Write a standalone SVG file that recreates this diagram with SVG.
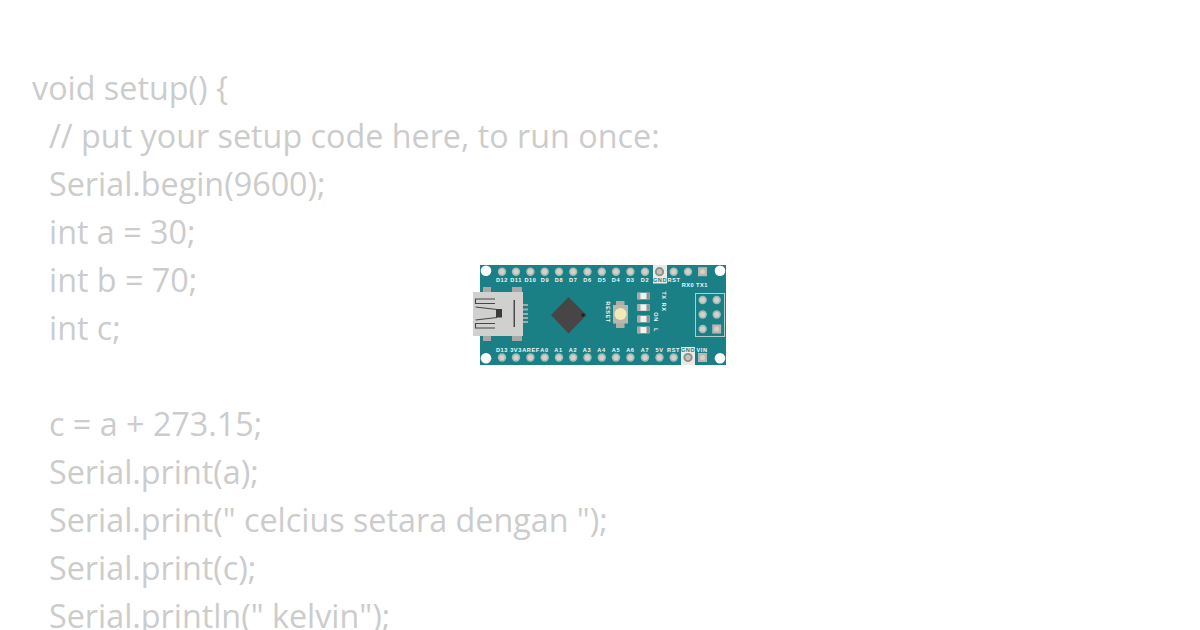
<svg xmlns="http://www.w3.org/2000/svg" width="1200" height="630" viewBox="0 0 1200 630">
<style>
.c{font-family:"Open Sans","Noto Sans",sans-serif;font-size:32.3px;fill:#cccccc}
.l{font-family:"Liberation Sans",sans-serif;font-size:5.6px;font-weight:700;fill:#f4f8f6;text-anchor:middle;letter-spacing:.55px}
.g{fill:#1a8086}
.p{fill:#a3bcb8}
.sq{fill:#b8b6ae}
.s{fill:none;stroke:#474747;stroke-width:1.100}
.t{fill:#a8a8a6}
</style>
<defs>
<g id="pin"><circle r="4.200" class="p"/><circle r="2.600" fill="#d9cfc9"/></g>
<g id="gpin"><circle r="4.600" fill="#8d8f8b"/><circle r="2.700" fill="#c8c0b9"/></g>
<g id="sqpin"><rect x="-4.500" y="-4.500" width="9" height="9" class="sq"/><circle r="2.500" fill="#d9cfc9"/></g>
<g id="led"><rect x="-6" y="-3.300" width="12" height="6.600" fill="#f2f2ef"/><rect x="-6" y="-3.300" width="3" height="6.600" fill="#a9a9a5"/><rect x="3" y="-3.300" width="3" height="6.600" fill="#8e9492"/></g>
</defs>
<rect width="1200" height="630" fill="#fff"/>
<g id="code">
<text class="c" x="32" y="100">void setup() {</text>
<text class="c" x="49" y="148">// put your setup code here, to run once:</text>
<text class="c" x="49" y="196">Serial.begin(9600);</text>
<text class="c" x="49" y="244">int a = 30;</text>
<text class="c" x="49" y="292">int b = 70;</text>
<text class="c" x="49" y="340">int c;</text>
<text class="c" x="49" y="436">c = a + 273.15;</text>
<text class="c" x="49" y="484">Serial.print(a);</text>
<text class="c" x="49" y="532">Serial.print(" celcius setara dengan ");</text>
<text class="c" x="49" y="580">Serial.print(c);</text>
<text class="c" x="49" y="628">Serial.println(" kelvin");</text>
</g>
<g id="board">
<rect x="480" y="265" width="246" height="100" class="g"/>
<circle cx="486" cy="270.700" r="5.300" fill="#fff"/>
<circle cx="720" cy="270.700" r="5.300" fill="#fff"/>
<circle cx="486" cy="358.300" r="5.300" fill="#fff"/>
<circle cx="720" cy="358.300" r="5.300" fill="#fff"/>
<rect x="653" y="265" width="14" height="18.500" fill="#e8ece8"/>
<rect x="681" y="347" width="14" height="18" fill="#e8ece8"/>
</g>
<g id="pins-top">
<use href="#pin" x="502" y="271.700"/><use href="#pin" x="516" y="271.700"/><use href="#pin" x="530.400" y="271.700"/><use href="#pin" x="544.700" y="271.700"/><use href="#pin" x="559" y="271.700"/><use href="#pin" x="573.200" y="271.700"/><use href="#pin" x="587.500" y="271.700"/><use href="#pin" x="601.800" y="271.700"/><use href="#pin" x="616" y="271.700"/><use href="#pin" x="630.400" y="271.700"/><use href="#pin" x="645" y="271.700"/><use href="#gpin" x="659.500" y="271.700"/><use href="#pin" x="673.700" y="271.700"/><use href="#pin" x="688" y="271.700"/><use href="#sqpin" x="702.500" y="271.700"/>
</g>
<g id="pins-bottom">
<use href="#pin" x="502" y="357.500"/><use href="#pin" x="516" y="357.500"/><use href="#pin" x="530.400" y="357.500"/><use href="#pin" x="544.700" y="357.500"/><use href="#pin" x="559" y="357.500"/><use href="#pin" x="573.200" y="357.500"/><use href="#pin" x="587.500" y="357.500"/><use href="#pin" x="601.800" y="357.500"/><use href="#pin" x="616" y="357.500"/><use href="#pin" x="630.400" y="357.500"/><use href="#pin" x="645" y="357.500"/><use href="#pin" x="659.500" y="357.500"/><use href="#pin" x="673.700" y="357.500"/><use href="#gpin" x="688" y="357.500"/><use href="#sqpin" x="702.500" y="357.500"/>
</g>
<g id="labels-top">
<text class="l" x="502" y="282">D12</text><text class="l" x="516" y="282">D11</text><text class="l" x="530.400" y="282">D10</text><text class="l" x="545" y="282">D9</text><text class="l" x="559" y="282">D8</text><text class="l" x="573.200" y="282">D7</text><text class="l" x="587.500" y="282">D6</text><text class="l" x="602" y="282">D5</text><text class="l" x="616" y="282">D4</text><text class="l" x="630.400" y="282">D3</text><text class="l" x="645" y="282">D2</text>
<text class="l" x="660" y="282" style="fill:#1a8086">GND</text><text class="l" x="674" y="282">RST</text><text class="l" x="688" y="287">RX0</text><text class="l" x="702" y="287">TX1</text>
</g>
<g id="labels-bottom">
<text class="l" x="502" y="352">D13</text><text class="l" x="516" y="352">3V3</text><text class="l" x="531" y="352">AREF</text><text class="l" x="544.500" y="352">A0</text><text class="l" x="558.500" y="352">A1</text><text class="l" x="573" y="352">A2</text><text class="l" x="587" y="352">A3</text><text class="l" x="601.500" y="352">A4</text><text class="l" x="616" y="352">A5</text><text class="l" x="630.400" y="352">A6</text><text class="l" x="645" y="352">A7</text><text class="l" x="659.500" y="352">5V</text><text class="l" x="673.500" y="352">RST</text><text class="l" x="688" y="352" style="fill:#1a8086">GND</text><text class="l" x="702" y="352">VIN</text>
</g>
<g id="usb">
<rect x="483" y="287" width="8" height="54" class="t"/>
<rect x="512" y="287" width="10" height="54" class="t"/>
<rect x="473" y="292" width="50" height="44" fill="#d0d0ce"/>
<g class="t"><rect x="523" y="304" width="5" height="2"/><rect x="523" y="308.500" width="5" height="2"/><rect x="523" y="313" width="5" height="2"/><rect x="523" y="317" width="5" height="2"/><rect x="523" y="321" width="5" height="2"/></g>
<path class="s" d="M495 299H475.500V303.500H495M475.500 307L497 309.500"/>
<path class="s" d="M475.500 320L497 317.500M495 323.500H475.500V328H495"/>
<rect x="496" y="309" width="6" height="8.500" fill="#3b3b3b"/>
<rect x="513.500" y="300" width="1.500" height="27" fill="#4a4a4a"/>
</g>
<g id="chip">
<path d="M568.500 297L586.500 315L568.500 333.500L551 315Z" fill="#474546"/>
<circle cx="583" cy="315" r="1.800" fill="#222"/>
</g>
<g id="reset">
<rect x="616" y="301" width="8.500" height="27" fill="#b0aea4"/>
<rect x="613" y="305" width="15" height="18.500" fill="#b9b7ad"/>
<circle cx="620.500" cy="314" r="6" fill="#f1e9b8"/>
<text class="l" transform="translate(606 312) rotate(90)">RESET</text>
</g>
<g id="leds">
<use href="#led" x="643.500" y="296"/><use href="#led" x="643.500" y="307.500"/><use href="#led" x="643.500" y="319"/><use href="#led" x="643.500" y="330"/>
<text class="l" transform="translate(662 295.500) rotate(90)">TX</text>
<text class="l" transform="translate(662 307) rotate(90)">RX</text>
<text class="l" transform="translate(654 317) rotate(90)">ON</text>
<text class="l" transform="translate(654 330) rotate(90)">L</text>
</g>
<g id="icsp">
<rect x="695.500" y="293.500" width="29" height="43" fill="none" stroke="#a9d0cc" stroke-width="1"/>
<use href="#pin" x="702.700" y="300"/><use href="#pin" x="716.700" y="300"/><use href="#pin" x="702.700" y="314.500"/><use href="#pin" x="716.700" y="314.500"/><use href="#pin" x="702.700" y="329"/><use href="#sqpin" x="716.700" y="329"/>
</g>
</svg>
